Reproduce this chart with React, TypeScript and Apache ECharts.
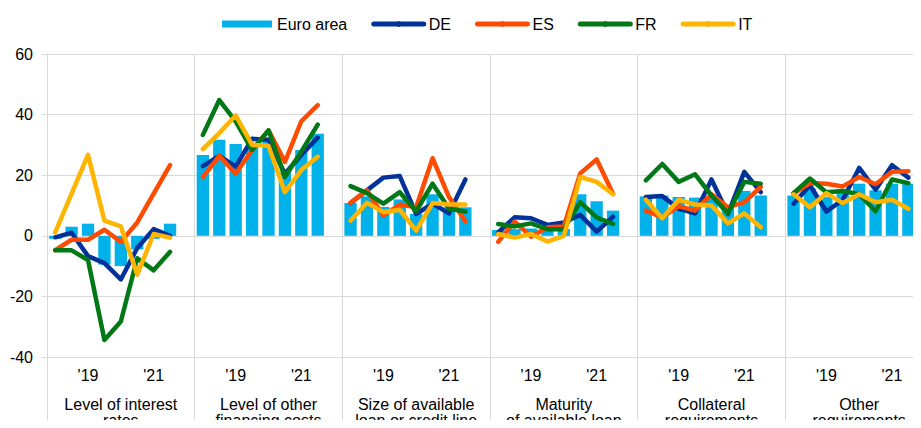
import React, { useEffect, useRef } from "react";
import * as echarts from "echarts";

const FONT = "'Liberation Sans', Arial, Helvetica, sans-serif";

const panelTitles = [
  "Level of interest\nrates",
  "Level of other\nfinancing costs",
  "Size of available\nloan or credit line",
  "Maturity\nof available loan",
  "Collateral\nrequirements",
  "Other\nrequirements",
];

// semi-annual survey rounds per panel (8 rounds), plus an empty spacer slot
const tickLabels = ["", "", "'19", "", "", "", "'21", "", ""];

const euroArea = [
  [-1, 3, 4, -9.5, -10, -4.5, -1, 4],
  [26.7, 31.7, 30.3, 30.5, 31.7, 21, 28.3, 33.7],
  [10.8, 13, 9.5, 12, 7.2, 13.7, 9.4, 9.4],
  [1.9, 2.2, 2.4, 2, 2.2, 13.7, 11.4, 8.3],
  [13, 13.3, 12.8, 12.6, 12.8, 9.4, 14.8, 13.3],
  [13.3, 15.6, 12.8, 14.4, 17.2, 15, 17.2, 17.2],
];

const de = [
  [-0.5, 1, -6.7, -9, -14.4, -4, 2.2, 0],
  [23, 26.4, 22.8, 32, 31.7, 20.5, 26.7, 32.4],
  [10.8, 15, 19.2, 19.7, 7.2, 10.6, 7.4, 18.6],
  [1.1, 6.1, 5.8, 3.6, 4.4, 6.9, 1.4, 6.3],
  [12.8, 13.1, 8.9, 7.4, 18.6, 7.2, 21.1, 14.4],
  [10.6, 16.7, 8, 11.9, 22.4, 15.2, 23.3, 19.2],
];

const es = [
  [-4.7, -1.3, -1.3, 2, -2, 4.4, 13.9, 23.3],
  [19.4, 26.4, 20.5, 28.3, 34.8, 24.4, 37.8, 43.1],
  [10.9, 15, 6.7, 10.3, 9.4, 25.6, 12.8, 4.8],
  [-2, 4.7, -0.3, 2.8, 3.1, 20.6, 25.2, 13.9],
  [8.3, 6.1, 9.8, 8.3, 13.7, 9.4, 11.1, 16.1],
  [13.9, 17.4, 17.2, 16.3, 19.4, 17, 21.1, 21.3],
];

const fr = [
  [-4.8, -4.8, -8, -34.4, -28.3, -7.4, -11.4, -5.3],
  [33.3, 44.8, 37.8, 28.3, 34.8, 19.4, 27.8, 36.7],
  [16.4, 14.1, 10.6, 14.4, 8.1, 17.2, 8.9, 8],
  [3.9, 3.1, 4.1, 2.2, 2.2, 11.1, 6.1, 3.9],
  [18.3, 23.7, 17.8, 20.3, 13.3, 7.4, 17.8, 17.2],
  [14.1, 18.9, 14.4, 14.8, 13.7, 8.1, 18.6, 17.4],
];

const it = [
  [1.1, 13.9, 26.7, 5, 3.1, -12.8, 0.6, -0.6],
  [28.6, 33.9, 39.7, 30, 29.7, 14.4, 21.7, 26.1],
  [5, 10.9, 7.8, 8.6, 1.7, 10.8, 10.3, 10.3],
  [0.6, -0.6, 0.6, -1.9, 0, 19.4, 17.8, 13.7],
  [11.9, 5.8, 11.9, 10.3, 10, 4.1, 7.4, 2.8],
  [13.7, 9.4, 14.1, 10.8, 13.7, 11.1, 11.9, 8.9],
];

const flatten = (panels: number[][]) =>
  panels.flatMap((v) => [...v, null] as (number | null)[]);

const categories = panelTitles.flatMap((_, p) =>
  tickLabels.map((_, i) => `${p}-${i}`)
);

const GRID = "#d9d9d9";

export default function App() {
  const ref = useRef<HTMLDivElement>(null);

  useEffect(() => {
    if (!ref.current) return;
    const chart = echarts.init(ref.current, undefined, { renderer: "svg" });

    const lineSeries = (name: string, data: number[][], color: string) => ({
      name,
      type: "line",
      xAxisIndex: 0,
      data: flatten(data),
      symbol: "none",
      showSymbol: false,
      connectNulls: false,
      lineStyle: { color, width: 4.5, cap: "round", join: "round" },
      itemStyle: { color },
      z: 3,
    });

    chart.setOption({
      animation: false,
      textStyle: { fontFamily: FONT },
      legend: {
        left: 217,
        top: 11,
        itemWidth: 50,
        itemHeight: 7,
        itemGap: 24,
        textStyle: { fontSize: 16, color: "#000", fontFamily: FONT },
        lineStyle: { width: 5, cap: "round" },
        data: [
          { name: "Euro area", icon: "rect" },
          { name: "DE" },
          { name: "ES" },
          { name: "FR" },
          { name: "IT" },
        ],
      },
      grid: {
        left: 47,
        top: 54,
        bottom: 71,
        width: 886,
        containLabel: false,
        outerBoundsMode: "none",
      },
      xAxis: [
        {
          type: "category",
          data: categories,
          position: "bottom",
          boundaryGap: true,
          axisLine: { show: false, onZero: false },
          axisTick: { show: false },
          splitLine: { show: false },
          axisLabel: {
            interval: 0,
            margin: 10,
            fontSize: 16,
            color: "#000",
            fontFamily: FONT,
            formatter: (_v: string, idx: number) => tickLabels[idx % 9] ?? "",
          },
        },
        {
          type: "category",
          data: panelTitles,
          position: "bottom",
          boundaryGap: true,
          axisLine: { show: false, onZero: false },
          axisTick: {
            show: true,
            interval: 0,
            length: 72,
            lineStyle: { color: GRID, width: 1 },
          },
          splitLine: { show: true, interval: 0, lineStyle: { color: GRID, width: 1 } },
          axisLabel: {
            interval: 0,
            margin: 39,
            fontSize: 16,
            lineHeight: 16,
            color: "#000",
            fontFamily: FONT,
          },
        },
      ],
      yAxis: {
        type: "value",
        min: -40,
        max: 60,
        interval: 20,
        axisLine: { show: false },
        axisTick: { show: true, length: 5, lineStyle: { color: GRID } },
        splitLine: { show: true, lineStyle: { color: GRID, width: 1 } },
        axisLabel: { margin: 14, fontSize: 16, color: "#000", fontFamily: FONT },
      },
      series: [
        {
          name: "Euro area",
          type: "bar",
          xAxisIndex: 0,
          data: flatten(euroArea),
          barWidth: "75%",
          itemStyle: { color: "#00b1ea" },
          z: 2,
        },
        lineSeries("DE", de, "#003299"),
        lineSeries("ES", es, "#ff4b00"),
        lineSeries("FR", fr, "#007816"),
        lineSeries("IT", it, "#ffb400"),
      ],
    });

    return () => chart.dispose();
  }, []);

  return <div ref={ref} style={{ width: 921, height: 428, margin: -8 }} />;
}
